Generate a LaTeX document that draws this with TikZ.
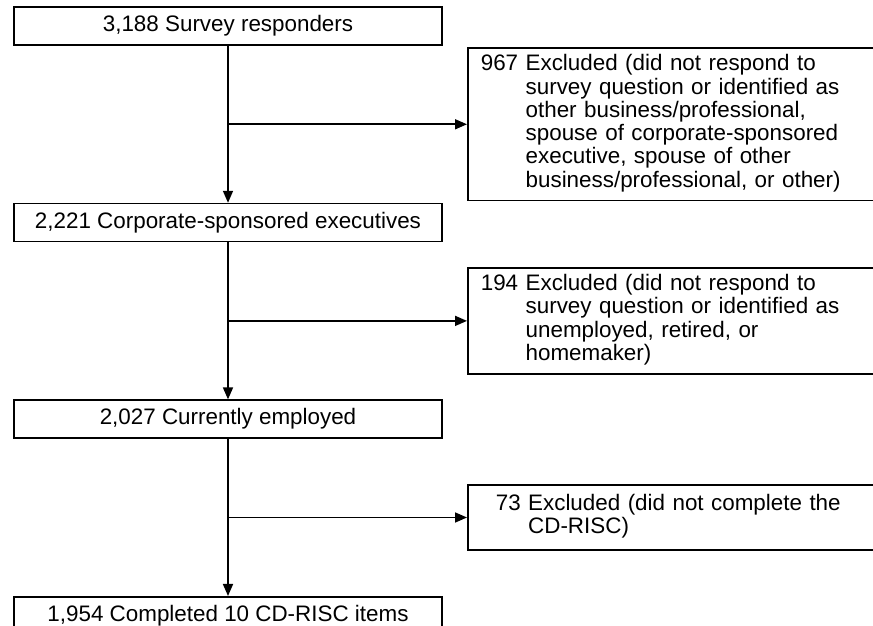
\documentclass[tikz,border=0pt]{standalone}
\usepackage{fontspec}
\setmainfont{Liberation Sans}
\usetikzlibrary{arrows.meta, positioning, calc}

\begin{document}
\begin{tikzpicture}[
    x=1pt, y=1pt,
    node distance=157pt,
    font=\fontsize{22.4}{23.3}\selectfont,
    box/.style={rectangle, minimum width=428pt, minimum height=38pt, text centered, draw=black, line width=1.6pt},
    excl/.style={rectangle, text width=394pt, inner xsep=13pt, inner ysep=6.5pt, align=left, draw=black, line width=1.6pt},
    arrow/.style={line width=1.6pt, -{Triangle[length=12pt, width=10pt]}}
]
\clip (0,0) rectangle (873,626);

\node (survey) [box] at (228,600) {3,188 Survey responders};
\node (corp) [box, below=of survey] {2,221 Corporate-sponsored executives};
\node (employed) [box, below=of corp] {2,027 Currently employed};
\node (complete) [box, below=of employed] {1,954 Completed 10 CD-RISC items};

\coordinate (j1) at ($(survey.south)!0.5!(corp.north)$);
\coordinate (j2) at ($(corp.south)!0.5!(employed.north)$);
\coordinate (j3) at ($(employed.south)!0.5!(complete.north)$);

\node (ex1) [excl, right=239pt of j1] {\begin{tabular}{@{}l@{ }l@{}}
967 & Excluded (did not respond to\\
 & survey question or identified as\\
 & other business/professional,\\
 & spouse of corporate-sponsored\\
 & executive, spouse of other\\
 & business/professional, or other)
\end{tabular}};
\node (ex2) [excl, right=239pt of j2] {\begin{tabular}{@{}l@{ }l@{}}
194 & Excluded (did not respond to\\
 & survey question or identified as\\
 & unemployed, retired, or\\
 & homemaker)
\end{tabular}};
\node (ex3) [excl, right=239pt of j3, text width=364pt, inner xsep=28pt, minimum height=65pt] {\begin{tabular}{@{}l@{ }l@{}}
73 & Excluded (did not complete the\\
 & CD-RISC)
\end{tabular}};

\draw [arrow] (survey) -- (corp);
\draw [arrow] (corp) -- (employed);
\draw [arrow] (employed) -- (complete);
\draw [arrow] (j1) -- (ex1.west |- j1);
\draw [arrow] (j2) -- (ex2.west |- j2);
\draw [arrow] (j3) -- (ex3.west |- j3);

\end{tikzpicture}
\end{document}
